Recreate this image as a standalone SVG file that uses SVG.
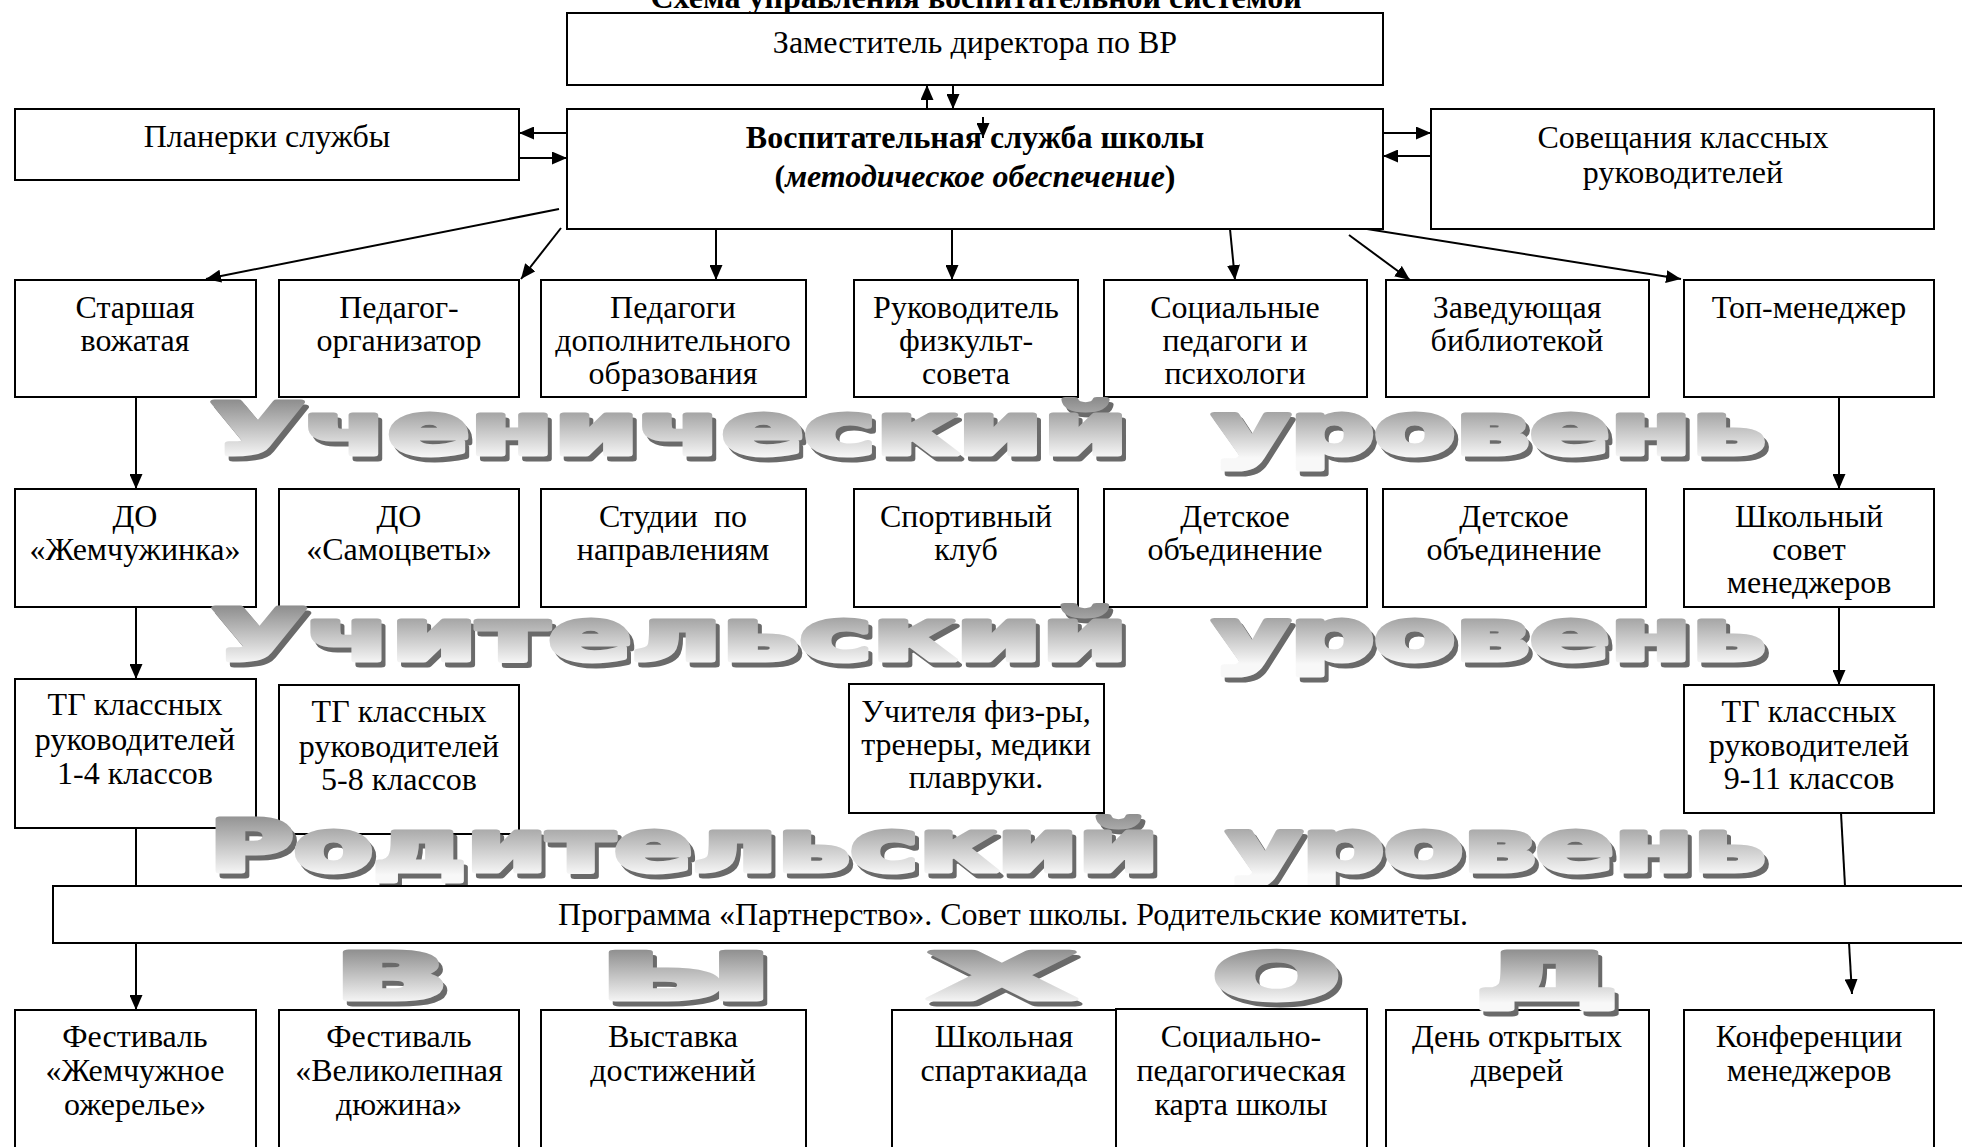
<svg xmlns="http://www.w3.org/2000/svg" width="1962" height="1147" viewBox="0 0 1962 1147">
<defs>
<style>
.box{fill:#fff;stroke:#000;stroke-width:2}
.t{font-family:"Liberation Serif","Times New Roman",serif;font-size:32px;text-anchor:middle;fill:#000;white-space:pre}
.b{font-weight:bold}
.conn line{stroke:#000;stroke-width:2}
.wa{font-family:"DejaVu Sans",sans-serif;font-weight:bold;font-size:72px;stroke-width:5;stroke-linejoin:round}
.sh{fill:#6a6a6a;stroke:#6a6a6a}
</style>
<marker id="ah" viewBox="0 0 15 13" refX="15" refY="6.5" markerWidth="15" markerHeight="13" markerUnits="userSpaceOnUse" orient="auto">
<path d="M0,0 L15,6.5 L0,13 z" fill="#000"/>
</marker>
<linearGradient id="g1" gradientUnits="userSpaceOnUse" x1="0" y1="400" x2="0" y2="458"><stop offset="0" stop-color="#8e8e8e"/><stop offset="1" stop-color="#f8f8f8"/></linearGradient>
<linearGradient id="g2" gradientUnits="userSpaceOnUse" x1="0" y1="606" x2="0" y2="664"><stop offset="0" stop-color="#8e8e8e"/><stop offset="1" stop-color="#f8f8f8"/></linearGradient>
<linearGradient id="g3" gradientUnits="userSpaceOnUse" x1="0" y1="813" x2="0" y2="875"><stop offset="0" stop-color="#8e8e8e"/><stop offset="1" stop-color="#f8f8f8"/></linearGradient>
<linearGradient id="g4" gradientUnits="userSpaceOnUse" x1="0" y1="949" x2="0" y2="1003"><stop offset="0" stop-color="#8e8e8e"/><stop offset="1" stop-color="#f8f8f8"/></linearGradient>
</defs>
<rect width="1962" height="1147" fill="#fff"/>

<text class="t b" x="976" y="8">Схема управления воспитательной системой</text>

<g id="zam"><rect class="box" x="567" y="13" width="816" height="72"/><text class="t" x="975" y="53">Заместитель директора по ВР</text></g>
<g id="planerki"><rect class="box" x="15" y="109" width="504" height="71"/><text class="t" x="267" y="147">Планерки службы</text></g>
<g id="vosp"><rect class="box" x="567" y="109" width="816" height="120"/><text class="t b" x="975" y="148">Воспитательная служба школы</text><text class="t b" x="975" y="187">(<tspan font-style="italic">методическое обеспечение</tspan>)</text></g>
<g id="sovesh"><rect class="box" x="1431" y="109" width="503" height="120"/><text class="t" x="1683" y="148">Совещания классных</text><text class="t" x="1683" y="183">руководителей</text></g>

<g id="r1-1"><rect class="box" x="15" y="280" width="241" height="117"/><text class="t" x="135" y="318">Старшая</text><text class="t" x="135" y="351">вожатая</text></g>
<g id="r1-2"><rect class="box" x="279" y="280" width="240" height="117"/><text class="t" x="399" y="318">Педагог-</text><text class="t" x="399" y="351">организатор</text></g>
<g id="r1-3"><rect class="box" x="541" y="280" width="265" height="117"/><text class="t" x="673" y="318">Педагоги</text><text class="t" x="673" y="351">дополнительного</text><text class="t" x="673" y="384">образования</text></g>
<g id="r1-4"><rect class="box" x="854" y="280" width="224" height="117"/><text class="t" x="966" y="318">Руководитель</text><text class="t" x="966" y="351">физкульт-</text><text class="t" x="966" y="384">совета</text></g>
<g id="r1-5"><rect class="box" x="1104" y="280" width="263" height="117"/><text class="t" x="1235" y="318">Социальные</text><text class="t" x="1235" y="351">педагоги и</text><text class="t" x="1235" y="384">психологи</text></g>
<g id="r1-6"><rect class="box" x="1386" y="280" width="263" height="117"/><text class="t" x="1517" y="318">Заведующая</text><text class="t" x="1517" y="351">библиотекой</text></g>
<g id="r1-7"><rect class="box" x="1684" y="280" width="250" height="117"/><text class="t" x="1809" y="318">Топ-менеджер</text></g>

<g id="r2-1"><rect class="box" x="15" y="489" width="241" height="118"/><text class="t" x="135" y="527">ДО</text><text class="t" x="135" y="560">«Жемчужинка»</text></g>
<g id="r2-2"><rect class="box" x="279" y="489" width="240" height="118"/><text class="t" x="399" y="527">ДО</text><text class="t" x="399" y="560">«Самоцветы»</text></g>
<g id="r2-3"><rect class="box" x="541" y="489" width="265" height="118"/><text class="t" x="673" y="527">Студии  по</text><text class="t" x="673" y="560">направлениям</text></g>
<g id="r2-4"><rect class="box" x="854" y="489" width="224" height="118"/><text class="t" x="966" y="527">Спортивный</text><text class="t" x="966" y="560">клуб</text></g>
<g id="r2-5"><rect class="box" x="1104" y="489" width="263" height="118"/><text class="t" x="1235" y="527">Детское</text><text class="t" x="1235" y="560">объединение</text></g>
<g id="r2-6"><rect class="box" x="1383" y="489" width="263" height="118"/><text class="t" x="1514" y="527">Детское</text><text class="t" x="1514" y="560">объединение</text></g>
<g id="r2-7"><rect class="box" x="1684" y="489" width="250" height="118"/><text class="t" x="1809" y="527">Школьный</text><text class="t" x="1809" y="560">совет</text><text class="t" x="1809" y="593">менеджеров</text></g>

<g id="r3-1"><rect class="box" x="15" y="679" width="241" height="149"/><text class="t" x="135" y="715">ТГ классных</text><text class="t" x="135" y="750">руководителей</text><text class="t" x="135" y="784">1-4 классов</text></g>
<g id="r3-2"><rect class="box" x="279" y="685" width="240" height="149"/><text class="t" x="399" y="722">ТГ классных</text><text class="t" x="399" y="757">руководителей</text><text class="t" x="399" y="790">5-8 классов</text></g>
<g id="r3-3"><rect class="box" x="849" y="684" width="255" height="129"/><text class="t" x="976" y="722">Учителя физ-ры,</text><text class="t" x="976" y="755">тренеры, медики</text><text class="t" x="976" y="788">плавруки.</text></g>
<g id="r3-4"><rect class="box" x="1684" y="685" width="250" height="128"/><text class="t" x="1809" y="722">ТГ классных</text><text class="t" x="1809" y="756">руководителей</text><text class="t" x="1809" y="789">9-11 классов</text></g>

<g id="connectors" class="conn">
<line x1="927" y1="109" x2="927" y2="85" marker-end="url(#ah)"/>
<line x1="953" y1="85" x2="953" y2="109" marker-end="url(#ah)"/>
<line x1="983" y1="117" x2="983" y2="138" marker-end="url(#ah)"/>
<line x1="567" y1="133" x2="519" y2="133" marker-end="url(#ah)"/>
<line x1="519" y1="158" x2="567" y2="158" marker-end="url(#ah)"/>
<line x1="1383" y1="133" x2="1431" y2="133" marker-end="url(#ah)"/>
<line x1="1431" y1="156" x2="1383" y2="156" marker-end="url(#ah)"/>
<line x1="559" y1="209" x2="206" y2="279" marker-end="url(#ah)"/>
<line x1="561" y1="228" x2="521" y2="279" marker-end="url(#ah)"/>
<line x1="716" y1="229" x2="716" y2="280" marker-end="url(#ah)"/>
<line x1="952" y1="229" x2="952" y2="280" marker-end="url(#ah)"/>
<line x1="1230" y1="229" x2="1235" y2="280" marker-end="url(#ah)"/>
<line x1="1349" y1="235" x2="1410" y2="280" marker-end="url(#ah)"/>
<line x1="1367" y1="229" x2="1681" y2="279" marker-end="url(#ah)"/>
<line x1="136" y1="397" x2="136" y2="489" marker-end="url(#ah)"/>
<line x1="136" y1="607" x2="136" y2="679" marker-end="url(#ah)"/>
<line x1="136" y1="828" x2="136" y2="886"/>
<line x1="136" y1="943" x2="136" y2="1010" marker-end="url(#ah)"/>
<line x1="1839" y1="397" x2="1839" y2="489" marker-end="url(#ah)"/>
<line x1="1839" y1="607" x2="1839" y2="685" marker-end="url(#ah)"/>
<line x1="1841" y1="813" x2="1845" y2="886"/>
<line x1="1849" y1="943" x2="1852" y2="994" marker-end="url(#ah)"/>
</g>

<g id="level-pupil" class="wa">
<text class="sh" x="215" y="459" textLength="917" lengthAdjust="spacingAndGlyphs">Ученический</text>
<text class="sh" x="1217" y="459" textLength="553" lengthAdjust="spacingAndGlyphs">уровень</text>
<text fill="url(#g1)" stroke="url(#g1)" x="211" y="454" textLength="917" lengthAdjust="spacingAndGlyphs">Ученический</text>
<text fill="url(#g1)" stroke="url(#g1)" x="1213" y="454" textLength="553" lengthAdjust="spacingAndGlyphs">уровень</text>
</g>
<g id="level-teacher" class="wa">
<text class="sh" x="216" y="665" textLength="916" lengthAdjust="spacingAndGlyphs">Учительский</text>
<text class="sh" x="1217" y="665" textLength="553" lengthAdjust="spacingAndGlyphs">уровень</text>
<text fill="url(#g2)" stroke="url(#g2)" x="212" y="660" textLength="916" lengthAdjust="spacingAndGlyphs">Учительский</text>
<text fill="url(#g2)" stroke="url(#g2)" x="1213" y="660" textLength="553" lengthAdjust="spacingAndGlyphs">уровень</text>
</g>
<g id="level-parent" class="wa">
<text class="sh" x="213" y="876" textLength="950" lengthAdjust="spacingAndGlyphs">Родительский</text>
<text class="sh" x="1231" y="876" textLength="539" lengthAdjust="spacingAndGlyphs">уровень</text>
<text fill="url(#g3)" stroke="url(#g3)" x="209" y="871" textLength="950" lengthAdjust="spacingAndGlyphs">Родительский</text>
<text fill="url(#g3)" stroke="url(#g3)" x="1227" y="871" textLength="539" lengthAdjust="spacingAndGlyphs">уровень</text>
</g>

<g id="partnership"><rect class="box" x="53" y="886" width="1940" height="57"/><text class="t" x="1013" y="925">Программа «Партнерство». Совет школы. Родительские комитеты.</text></g>

<g id="b-1"><rect class="box" x="15" y="1010" width="241" height="160"/><text class="t" x="135" y="1047">Фестиваль</text><text class="t" x="135" y="1081">«Жемчужное</text><text class="t" x="135" y="1115">ожерелье»</text></g>
<g id="b-2"><rect class="box" x="279" y="1010" width="240" height="160"/><text class="t" x="399" y="1047">Фестиваль</text><text class="t" x="399" y="1081">«Великолепная</text><text class="t" x="399" y="1115">дюжина»</text></g>
<g id="b-3"><rect class="box" x="541" y="1010" width="265" height="160"/><text class="t" x="673" y="1047">Выставка</text><text class="t" x="673" y="1081">достижений</text></g>
<g id="b-4"><rect class="box" x="892" y="1010" width="224" height="160"/><text class="t" x="1004" y="1047">Школьная</text><text class="t" x="1004" y="1081">спартакиада</text></g>
<g id="b-5"><rect class="box" x="1116" y="1009" width="251" height="160"/><text class="t" x="1241" y="1047">Социально-</text><text class="t" x="1241" y="1081">педагогическая</text><text class="t" x="1241" y="1115">карта школы</text></g>
<g id="b-6"><rect class="box" x="1386" y="1010" width="263" height="160"/><text class="t" x="1517" y="1047">День открытых</text><text class="t" x="1517" y="1081">дверей</text></g>
<g id="b-7"><rect class="box" x="1684" y="1010" width="250" height="160"/><text class="t" x="1809" y="1047">Конференции</text><text class="t" x="1809" y="1081">менеджеров</text></g>

<g id="exit" class="wa">
<text class="sh" x="339" y="1004" textLength="113" lengthAdjust="spacingAndGlyphs" style="font-size:64px">В</text>
<text class="sh" x="604" y="1004" textLength="172" lengthAdjust="spacingAndGlyphs" style="font-size:64px">Ы</text>
<text class="sh" x="933" y="1004" textLength="146" lengthAdjust="spacingAndGlyphs" style="font-size:64px">Х</text>
<text class="sh" x="1217" y="1004" textLength="127" lengthAdjust="spacingAndGlyphs" style="font-size:64px">О</text>
<text class="sh" x="1480" y="1004" textLength="142" lengthAdjust="spacingAndGlyphs" style="font-size:64px">Д</text>
<text fill="url(#g4)" stroke="url(#g4)" x="335" y="999" textLength="113" lengthAdjust="spacingAndGlyphs" style="font-size:64px">В</text>
<text fill="url(#g4)" stroke="url(#g4)" x="600" y="999" textLength="172" lengthAdjust="spacingAndGlyphs" style="font-size:64px">Ы</text>
<text fill="url(#g4)" stroke="url(#g4)" x="929" y="999" textLength="146" lengthAdjust="spacingAndGlyphs" style="font-size:64px">Х</text>
<text fill="url(#g4)" stroke="url(#g4)" x="1213" y="999" textLength="127" lengthAdjust="spacingAndGlyphs" style="font-size:64px">О</text>
<text fill="url(#g4)" stroke="url(#g4)" x="1476" y="999" textLength="142" lengthAdjust="spacingAndGlyphs" style="font-size:64px">Д</text>
</g>
</svg>
